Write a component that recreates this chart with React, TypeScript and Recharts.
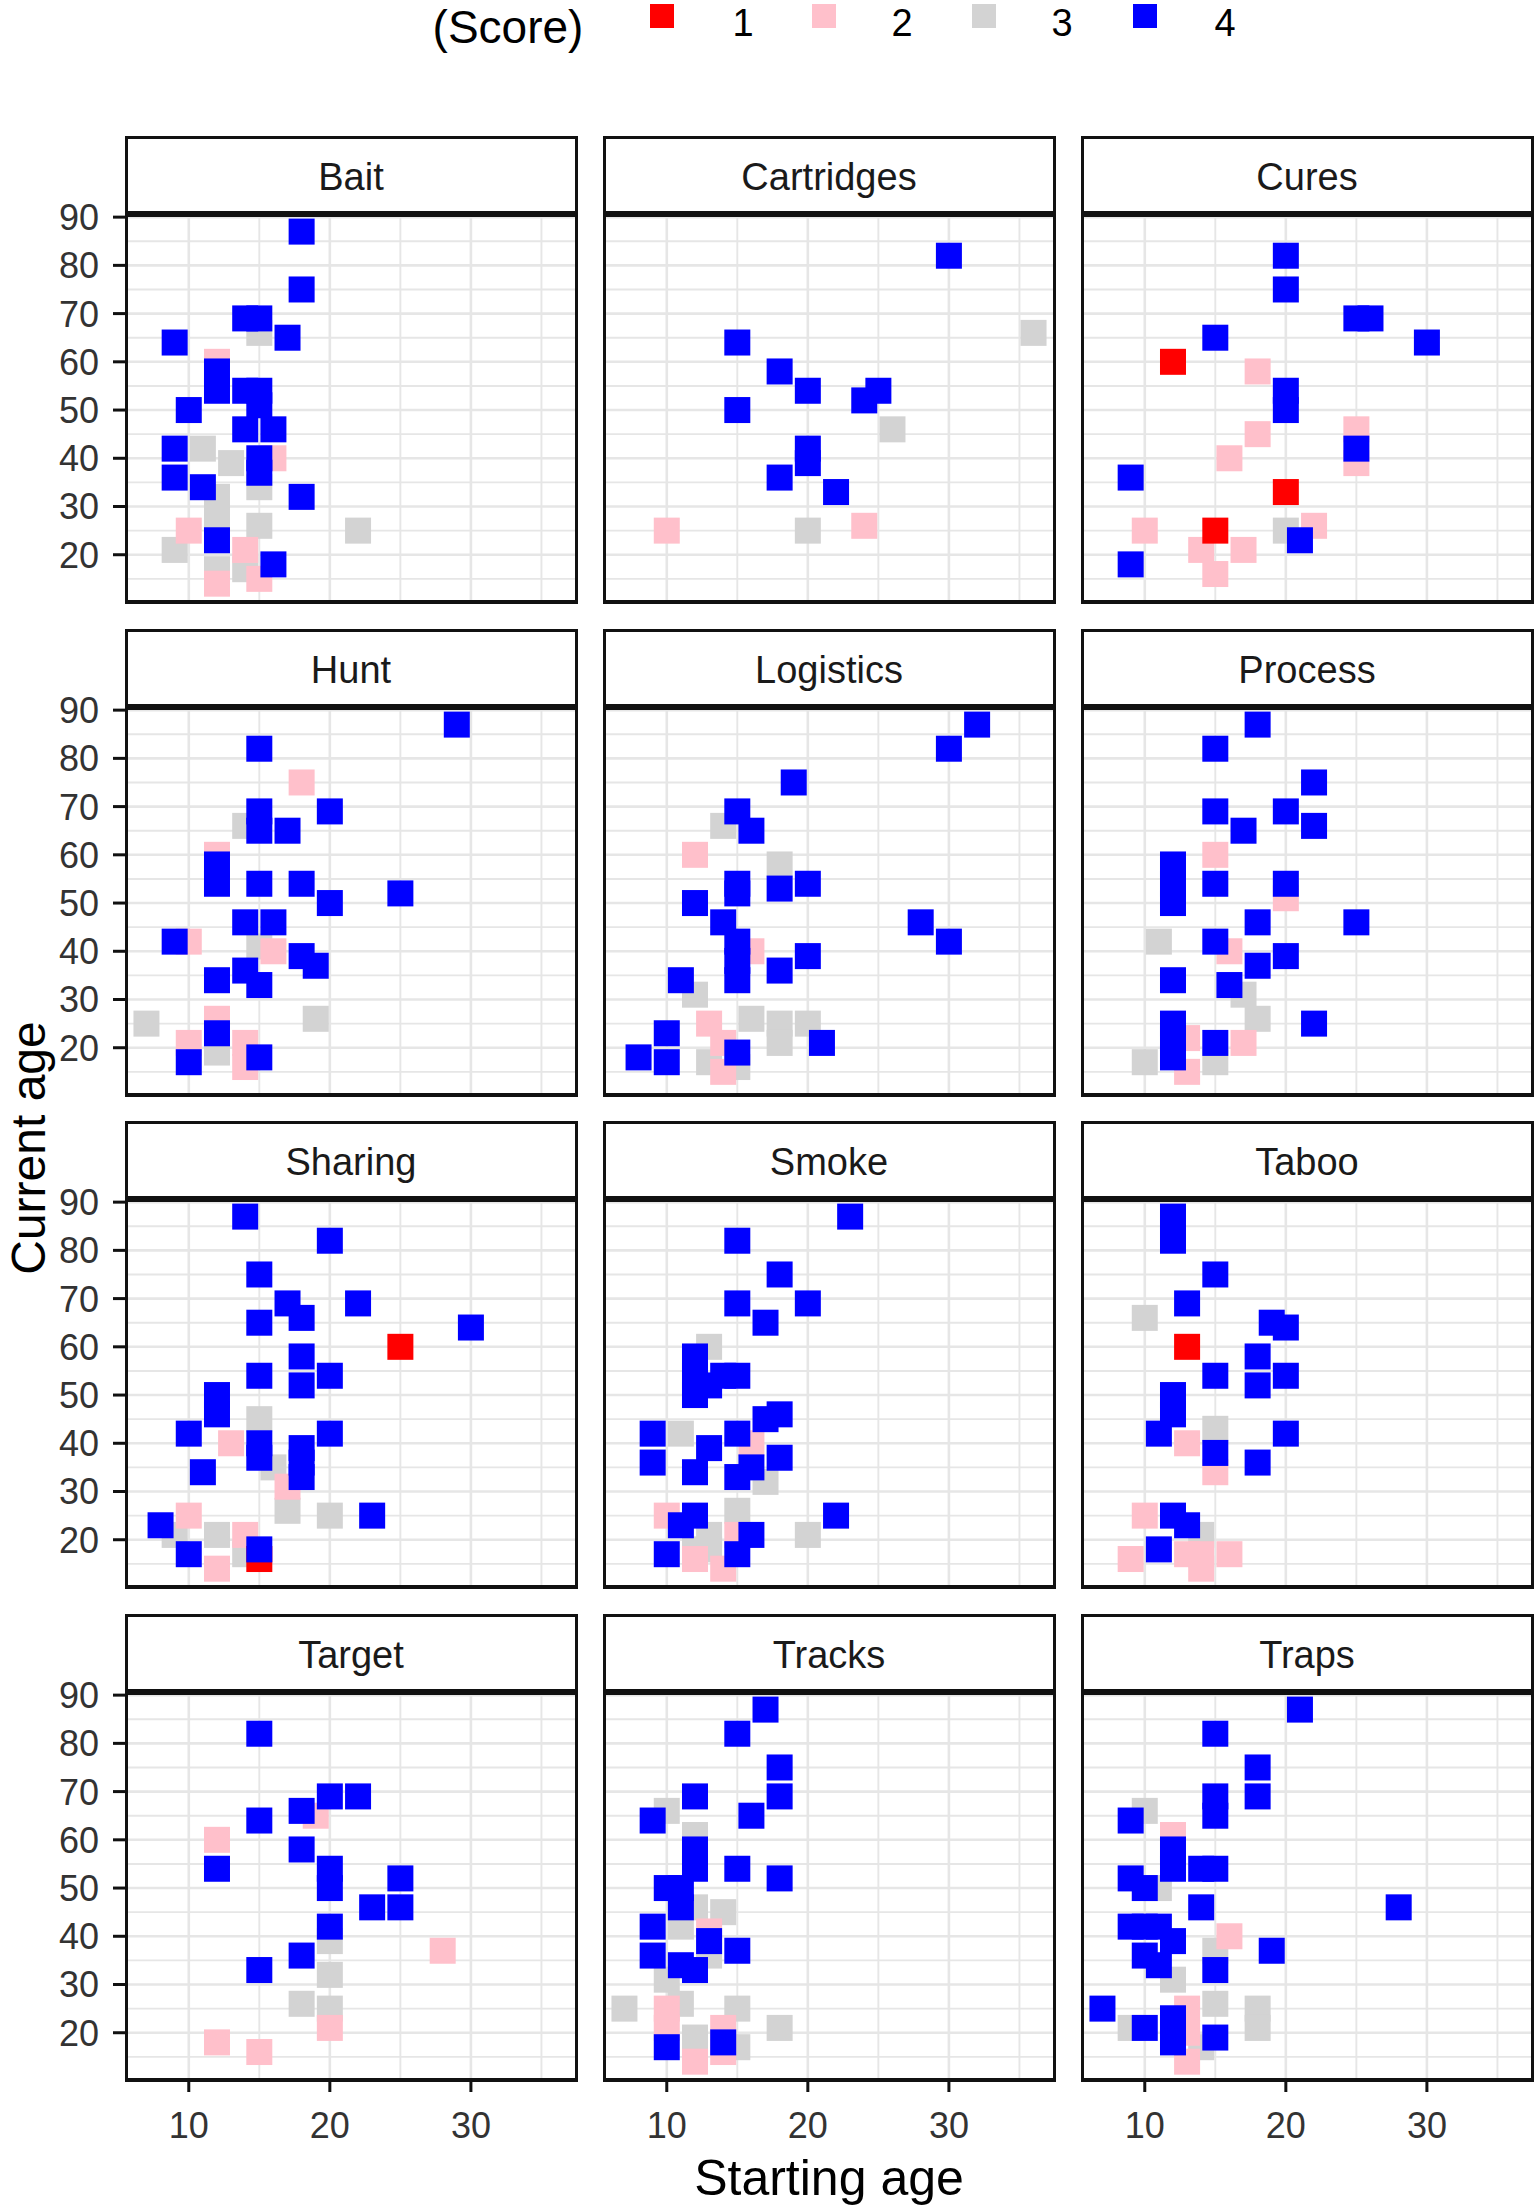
import React from 'react';
import { ScatterChart, Scatter, XAxis, YAxis, CartesianGrid } from 'recharts';

// facet names, in reading order
const panelNames = ['Bait', 'Cartridges', 'Cures', 'Hunt', 'Logistics', 'Process', 'Sharing', 'Smoke', 'Taboo', 'Target', 'Tracks', 'Traps'];
const scoreLabels = ['1', '2', '3', '4'];
const scoreColors = ['#FF0000', '#FFC0CB', '#D3D3D3', '#0000FF'];
const drawOrder = [3, 2, 1, 4]; // gray, pink, red, blue on top
const xTicks = [10, 20, 30];
const xMinor = [15, 25, 35];
const yTicks = [20, 30, 40, 50, 60, 70, 80, 90];
const yMinor = [15, 25, 35, 45, 55, 65, 75, 85];
const xDomain = [5.55, 37.45];
const yDomain = [10.2, 90.65];

// [starting age, current age, score]
const bait = [
  [18, 87, 4], [18, 75, 4], [14, 69, 4], [15, 69, 4], [15, 66, 3], [17, 65, 4], [9, 64, 4], [12, 60, 2], [12, 58, 4], [12, 54, 4],
  [14, 54, 4], [15, 54, 4], [15, 51, 4], [10, 50, 4], [14, 46, 4], [16, 46, 4], [11, 42, 3], [13, 39, 3], [9, 42, 4], [9, 36, 4],
  [16, 40, 2], [15, 40, 4], [15, 37, 4], [15, 34, 3], [11, 34, 4], [12, 32, 3], [18, 32, 4], [10, 25, 2], [12, 27, 3], [12, 23, 4],
  [9, 21, 3], [15, 26, 3], [22, 25, 3], [14, 21, 2], [12, 17, 3], [14, 17, 3], [12, 14, 2], [16, 18, 4], [15, 15, 2],
];
const cartridges = [
  [30, 82, 4], [36, 66, 3], [15, 64, 4], [18, 58, 4], [20, 54, 4], [24, 52, 4], [25, 54, 4], [15, 50, 4], [26, 46, 3], [20, 42, 4],
  [20, 39, 4], [18, 36, 4], [22, 33, 4], [10, 25, 2], [20, 25, 3], [24, 26, 2],
];
const cures = [
  [20, 82, 4], [20, 75, 4], [25, 69, 4], [26, 69, 4], [15, 65, 4], [30, 64, 4], [12, 60, 1], [18, 58, 2], [20, 54, 4], [20, 50, 4],
  [25, 42, 4], [25, 46, 2], [25, 39, 2], [18, 45, 2], [16, 40, 2], [9, 36, 4], [20, 33, 1], [10, 25, 2], [15, 25, 1], [20, 25, 3],
  [22, 26, 2], [21, 23, 4], [14, 21, 2], [17, 21, 2], [15, 16, 2], [9, 18, 4],
];
const hunt = [
  [29, 87, 4], [15, 82, 4], [18, 75, 2], [14, 66, 3], [15, 69, 4], [15, 65, 4], [20, 69, 4], [17, 65, 4], [12, 60, 2], [12, 58, 4],
  [12, 54, 4], [15, 54, 4], [18, 54, 4], [20, 50, 4], [25, 52, 4], [14, 46, 4], [16, 46, 4], [10, 42, 2], [9, 42, 4], [15, 41, 3],
  [16, 40, 2], [18, 39, 4], [19, 37, 4], [14, 36, 4], [15, 33, 4], [12, 34, 4], [7, 25, 3], [19, 26, 3], [12, 26, 2], [12, 23, 4],
  [10, 21, 2], [12, 19, 3], [10, 17, 4], [14, 21, 2], [14, 16, 2], [15, 18, 4],
];
const logistics = [
  [32, 87, 4], [30, 82, 4], [19, 75, 4], [14, 66, 3], [15, 69, 4], [16, 65, 4], [12, 60, 2], [18, 58, 3], [15, 54, 4], [15, 52, 4],
  [18, 53, 4], [20, 54, 4], [12, 50, 4], [14, 46, 4], [28, 46, 4], [30, 42, 4], [16, 40, 2], [15, 42, 4], [15, 38, 4], [15, 34, 4],
  [20, 39, 4], [18, 36, 4], [12, 31, 3], [11, 34, 4], [16, 26, 3], [13, 25, 2], [18, 25, 3], [18, 21, 3], [20, 25, 3], [21, 21, 4],
  [10, 23, 4], [13, 17, 3], [15, 16, 3], [14, 21, 2], [14, 15, 2], [8, 18, 4], [10, 17, 4], [15, 19, 4],
];
const process = [
  [18, 87, 4], [15, 82, 4], [22, 75, 4], [15, 69, 4], [20, 69, 4], [17, 65, 4], [22, 66, 4], [15, 60, 2], [12, 58, 4], [12, 54, 4],
  [12, 50, 4], [15, 54, 4], [20, 51, 2], [20, 54, 4], [25, 46, 4], [18, 46, 4], [11, 42, 3], [16, 40, 2], [15, 42, 4], [20, 39, 4],
  [18, 37, 4], [12, 34, 4], [17, 31, 3], [16, 33, 4], [18, 26, 3], [22, 25, 4], [13, 22, 2], [17, 21, 2], [12, 25, 4], [12, 22, 4],
  [12, 18, 4], [15, 21, 4], [10, 17, 3], [13, 15, 2], [15, 17, 3],
];
const sharing = [
  [14, 87, 4], [20, 82, 4], [15, 75, 4], [17, 69, 4], [18, 66, 4], [22, 69, 4], [15, 65, 4], [30, 64, 4], [25, 60, 1], [18, 58, 4],
  [15, 54, 4], [18, 52, 4], [20, 54, 4], [12, 50, 4], [12, 46, 4], [15, 45, 3], [10, 42, 4], [13, 40, 2], [15, 40, 4], [15, 37, 4],
  [18, 39, 4], [18, 36, 4], [18, 33, 4], [20, 42, 4], [11, 34, 4], [16, 35, 3], [17, 31, 2], [17, 26, 3], [20, 25, 3], [23, 25, 4],
  [10, 25, 2], [8, 23, 4], [9, 21, 3], [12, 21, 3], [14, 21, 2], [14, 17, 3], [10, 17, 4], [12, 14, 2], [15, 16, 1], [15, 18, 4],
];
const smoke = [
  [23, 87, 4], [15, 82, 4], [18, 75, 4], [15, 69, 4], [20, 69, 4], [17, 65, 4], [13, 60, 3], [12, 58, 4], [12, 54, 4], [12, 50, 4],
  [13, 52, 4], [14, 54, 4], [15, 54, 4], [17, 45, 4], [18, 46, 4], [9, 42, 4], [9, 36, 4], [11, 42, 3], [15, 42, 4], [16, 40, 2],
  [13, 39, 4], [18, 37, 4], [16, 35, 4], [15, 33, 4], [12, 34, 4], [17, 32, 3], [10, 25, 2], [15, 26, 3], [12, 25, 4], [22, 25, 4],
  [11, 23, 4], [13, 21, 3], [13, 18, 3], [15, 21, 2], [16, 21, 4], [20, 21, 3], [10, 17, 4], [12, 16, 2], [12, 18, 3], [15, 17, 4],
  [14, 14, 2],
];
const taboo = [
  [12, 87, 4], [12, 82, 4], [15, 75, 4], [13, 69, 4], [10, 66, 3], [19, 65, 4], [20, 64, 4], [13, 60, 1], [18, 58, 4], [18, 52, 4],
  [15, 54, 4], [20, 54, 4], [12, 50, 4], [12, 46, 4], [11, 42, 4], [20, 42, 4], [15, 43, 3], [13, 40, 2], [15, 38, 4], [18, 36, 4],
  [15, 34, 2], [10, 25, 2], [12, 25, 4], [13, 23, 4], [14, 21, 3], [11, 18, 4], [9, 16, 2], [13, 17, 2], [14, 17, 2], [16, 17, 2],
  [14, 14, 2],
];
const target = [
  [15, 82, 4], [20, 69, 4], [22, 69, 4], [18, 66, 4], [19, 65, 2], [15, 64, 4], [12, 60, 2], [18, 58, 4], [12, 54, 4], [20, 54, 4],
  [20, 50, 4], [25, 52, 4], [25, 46, 4], [23, 46, 4], [20, 42, 4], [20, 39, 3], [28, 37, 2], [18, 36, 4], [15, 33, 4], [20, 32, 3],
  [18, 26, 3], [20, 25, 3], [20, 21, 2], [12, 18, 2], [15, 16, 2],
];
const tracks = [
  [17, 87, 4], [15, 82, 4], [18, 75, 4], [18, 69, 4], [12, 69, 4], [10, 66, 3], [16, 65, 4], [9, 64, 4], [12, 61, 3], [12, 58, 4],
  [12, 54, 4], [15, 54, 4], [18, 52, 4], [10, 50, 4], [11, 50, 4], [11, 46, 4], [12, 46, 3], [14, 45, 3], [9, 42, 4], [11, 42, 3],
  [13, 41, 2], [13, 39, 4], [9, 36, 4], [15, 37, 4], [11, 34, 4], [12, 33, 4], [13, 36, 3], [10, 31, 3], [7, 25, 3], [11, 26, 3],
  [10, 25, 2], [10, 21, 2], [15, 25, 3], [14, 21, 2], [18, 21, 3], [10, 17, 4], [12, 19, 3], [14, 18, 4], [12, 14, 2], [14, 16, 2],
  [15, 17, 3],
];
const traps = [
  [21, 87, 4], [15, 82, 4], [18, 75, 4], [18, 69, 4], [15, 69, 4], [15, 65, 4], [10, 66, 3], [9, 64, 4], [12, 61, 2], [12, 58, 4],
  [12, 54, 4], [14, 54, 4], [15, 54, 4], [9, 52, 4], [10, 50, 4], [11, 50, 3], [14, 46, 4], [28, 46, 4], [9, 42, 4], [10, 42, 4],
  [11, 42, 4], [12, 39, 4], [16, 40, 2], [19, 37, 4], [10, 36, 4], [11, 34, 4], [15, 37, 3], [15, 33, 4], [12, 31, 3], [7, 25, 4],
  [9, 21, 3], [10, 21, 4], [12, 23, 4], [12, 21, 4], [12, 18, 4], [13, 25, 2], [13, 20, 2], [13, 14, 2], [15, 26, 3], [18, 25, 3],
  [18, 21, 3], [15, 19, 4], [14, 17, 3],
];

const panelData = [bait, cartridges, cures, hunt, logistics, process, sharing, smoke, taboo, target, tracks, traps];

// layout (page pixels)
const PLOT_LEFT = [126, 604, 1082];
const PLOT_TOP = [214, 707, 1199, 1692];
const PLOT_W = 450;
const PLOT_H = 388;
const STRIP_H = 78;
const Y_W = 126;
const X_H = 80;
const PAD_T = 26; // room above the plot so the top tick label is not clipped
const SQ = 26;
const FONT = '"Liberation Sans", Arial, Helvetica, sans-serif';
const INK = '#111111';
const GRID = '#E6E6E6';

const YTick = (p: any) => (
  <g>
    <line x1={Y_W - 13} x2={Y_W} y1={p.y} y2={p.y} stroke={INK} strokeWidth={3} />
    <text x={Y_W - 27} y={p.y} dy="0.36em" textAnchor="end" fontSize={36} fontFamily={FONT} fill="#333333">
      {p.payload.value}
    </text>
  </g>
);

const XTick = (p: any) => (
  <g>
    <line x1={p.x} x2={p.x} y1={PAD_T + PLOT_H} y2={PAD_T + PLOT_H + 12} stroke={INK} strokeWidth={3} />
    <text x={p.x} y={PAD_T + PLOT_H + 58} textAnchor="middle" fontSize={36} fontFamily={FONT} fill="#333333">
      {p.payload.value}
    </text>
  </g>
);

const Panel = ({ idx }: { idx: number }) => {
  const col = idx % 3;
  const row = Math.floor(idx / 3);
  const showY = col === 0;
  const showX = row === 3;
  const chartLeft = showY ? PLOT_LEFT[0] - Y_W : PLOT_LEFT[col];
  const width = PLOT_W + (showY ? Y_W : 0);
  const height = PAD_T + PLOT_H + (showX ? X_H : 0);
  const rows = panelData[idx];

  return (
    <>
      <div
        style={{
          position: 'absolute', left: PLOT_LEFT[col] - 1.5, top: PLOT_TOP[row] - STRIP_H, width: PLOT_W + 3, height: STRIP_H,
          boxSizing: 'border-box', border: `3px solid ${INK}`, background: '#fff', paddingTop: 4,
          display: 'flex', alignItems: 'center', justifyContent: 'center',
          fontFamily: FONT, fontSize: 38, color: '#1a1a1a',
        }}
      >
        {panelNames[idx]}
      </div>
      <div style={{ position: 'absolute', left: chartLeft, top: PLOT_TOP[row] - PAD_T }}>
        <ScatterChart width={width} height={height} margin={{ top: PAD_T, right: 0, bottom: 0, left: 0 }}>
          <CartesianGrid stroke={GRID} strokeWidth={1.9} horizontalValues={yMinor} verticalValues={xMinor} />
          <CartesianGrid stroke={GRID} strokeWidth={2.6} horizontalValues={yTicks} verticalValues={xTicks} />
          <XAxis
            type="number" dataKey="x" domain={xDomain} ticks={xTicks} interval={0} allowDataOverflow
            hide={!showX} height={X_H} axisLine={false} tickLine={false} tick={<XTick />}
          />
          <YAxis
            type="number" dataKey="y" domain={yDomain} ticks={yTicks} interval={0} allowDataOverflow
            hide={!showY} width={Y_W} axisLine={false} tickLine={false} tick={<YTick />}
          />
          {drawOrder.map((s) => (
            <Scatter
              key={s}
              data={rows.filter((d) => d[2] === s).map((d) => ({ x: d[0], y: d[1] }))}
              isAnimationActive={false}
              shape={(p: any) =>
                p.cx == null ? <g /> : (
                  <rect x={p.cx - SQ / 2} y={p.cy - SQ / 2} width={SQ} height={SQ} fill={scoreColors[s - 1]} />
                )
              }
            />
          ))}
        </ScatterChart>
      </div>
      <div
        style={{
          position: 'absolute', left: PLOT_LEFT[col] - 1.5, top: PLOT_TOP[row], width: PLOT_W + 3, height: PLOT_H + 2,
          boxSizing: 'border-box', borderStyle: 'solid', borderColor: INK,
          borderWidth: '3px 3.4px 4.2px 3px', pointerEvents: 'none',
        }}
      />
    </>
  );
};

const legendKeyX = [650, 812, 972, 1133];
const legendTextX = [743, 902, 1062, 1225];

export default function App() {
  return (
    <div style={{ position: 'absolute', left: 0, top: 0, width: 1535, height: 2205, background: '#fff', overflow: 'hidden' }}>
      <svg width={1535} height={70} style={{ position: 'absolute', left: 0, top: 0 }}>
        <text x={508} y={27} dy="0.35em" textAnchor="middle" fontSize={46} fontFamily={FONT} fill="#000">(Score)</text>
        {scoreLabels.map((lab, i) => (
          <g key={lab}>
            <rect x={legendKeyX[i]} y={4} width={24} height={24} fill={scoreColors[i]} />
            <text x={legendTextX[i]} y={23} dy="0.35em" textAnchor="middle" fontSize={38} fontFamily={FONT} fill="#000">{lab}</text>
          </g>
        ))}
      </svg>
      {panelNames.map((_, i) => (
        <Panel key={i} idx={i} />
      ))}
      <svg width={1535} height={2205} style={{ position: 'absolute', left: 0, top: 0, pointerEvents: 'none' }}>
        <text x={829} y={2177} dy="0.35em" textAnchor="middle" fontSize={50} fontFamily={FONT} fill="#000">Starting age</text>
        <text
          x={28} y={1148} dy="0.35em" textAnchor="middle" fontSize={48} fontFamily={FONT} fill="#000"
          transform="rotate(-90 28 1148)"
        >
          Current age
        </text>
      </svg>
    </div>
  );
}
